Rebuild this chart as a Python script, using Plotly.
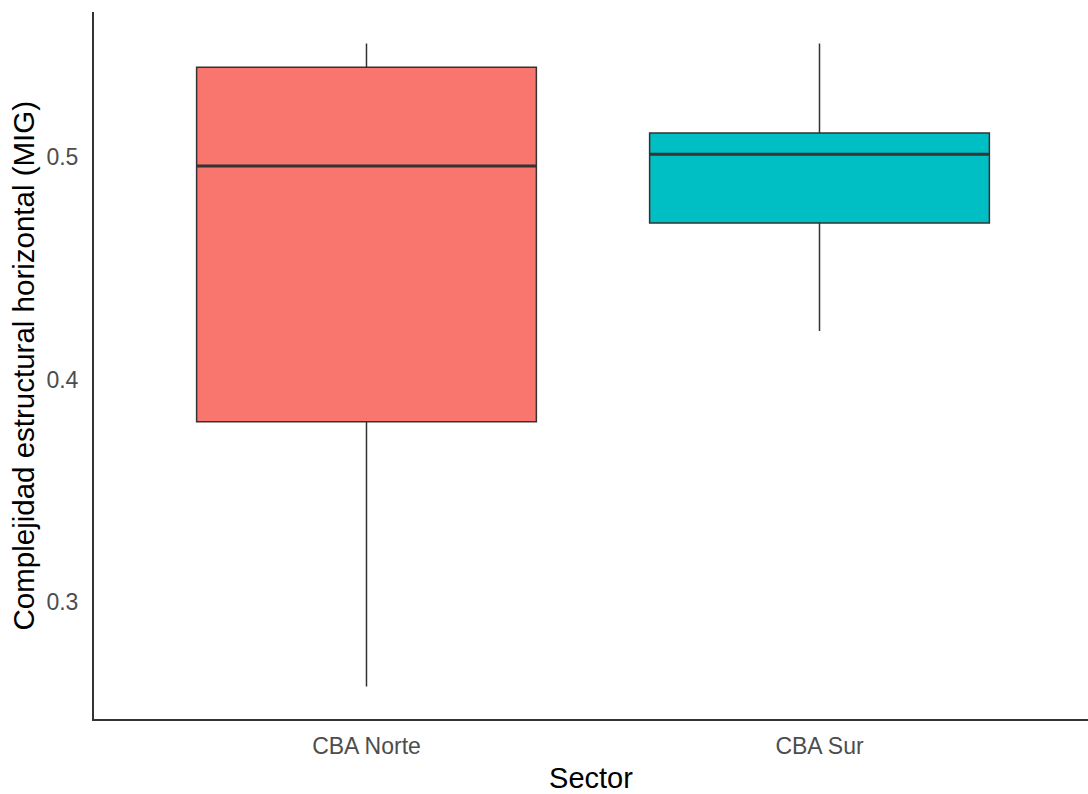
import plotly.graph_objects as go

sectors = ["CBA Norte", "CBA Sur"]
q1 = [0.381, 0.4703]
median = [0.496, 0.5013]
q3 = [0.5404, 0.5108]
lower = [0.262, 0.4218]
upper = [0.551, 0.551]
colors = ["#F8766D", "#00BFC4"]
y_ticks = [0.3, 0.4, 0.5]

fig = go.Figure()
for i, s in enumerate(sectors):
    fig.add_trace(go.Box(
        x=[s], q1=[q1[i]], median=[median[i]], q3=[q3[i]],
        lowerfence=[lower[i]], upperfence=[upper[i]],
        fillcolor=colors[i], line=dict(color="#333333", width=1.5),
        whiskerwidth=0, width=0.75, boxpoints=False, showlegend=False,
        hoverinfo="skip",
    ))
    # thicker median line
    fig.add_trace(go.Box(
        x=[s], q1=[median[i]], median=[median[i]], q3=[median[i]],
        lowerfence=[median[i]], upperfence=[median[i]],
        fillcolor=colors[i], line=dict(color="#333333", width=3),
        whiskerwidth=0, width=0.75, boxpoints=False, showlegend=False,
        hoverinfo="skip",
    ))

fig.update_layout(
    width=1088, height=794,
    margin=dict(l=94, r=0, t=12, b=75),
    paper_bgcolor="white", plot_bgcolor="white",
    boxmode="overlay",
    font=dict(family="Liberation Sans, Arial, sans-serif"),
    xaxis=dict(
        type="category", range=[-0.6015, 1.5927],
        showline=True, linecolor="#333333", linewidth=2,
        showgrid=False, zeroline=False, ticks="",
        tickfont=dict(size=23, color="#4D4D4D"),
        ticklabelstandoff=5,
        title=dict(text="Sector", font=dict(size=29, color="#000000"), standoff=10),
    ),
    yaxis=dict(
        range=[0.2474, 0.5652],
        tickvals=y_ticks, ticktext=[str(v) for v in y_ticks],
        showline=True, linecolor="#333333", linewidth=2,
        showgrid=False, zeroline=False, ticks="",
        tickfont=dict(size=23, color="#4D4D4D"),
        ticklabelstandoff=9,
    ),
    annotations=[dict(
        text="Complejidad estructural horizontal (MIG)",
        xref="paper", yref="paper", x=0, y=0.5,
        xanchor="center", yanchor="middle", xshift=-71,
        textangle=-90, showarrow=False,
        font=dict(size=29.5, color="#000000"),
    )],
)

fig.write_html("out.html")
